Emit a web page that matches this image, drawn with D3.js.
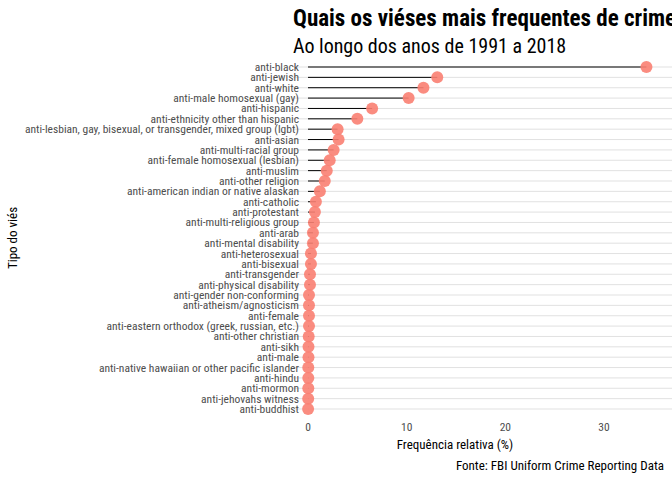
<!DOCTYPE html>
<html><head><meta charset="utf-8">
<script src="https://cdn.jsdelivr.net/npm/d3@7"></script>
<style>
body{margin:0;background:#fff;overflow:hidden}
text{font-family:"Roboto Condensed","Liberation Sans Narrow",Roboto,sans-serif}
</style></head><body>
<div id="chart"></div>
<script>
const categories = ["anti-black","anti-jewish","anti-white","anti-male homosexual (gay)","anti-hispanic","anti-ethnicity other than hispanic","anti-lesbian, gay, bisexual, or transgender, mixed group (lgbt)","anti-asian","anti-multi-racial group","anti-female homosexual (lesbian)","anti-muslim","anti-other religion","anti-american indian or native alaskan","anti-catholic","anti-protestant","anti-multi-religious group","anti-arab","anti-mental disability","anti-heterosexual","anti-bisexual","anti-transgender","anti-physical disability","anti-gender non-conforming","anti-atheism/agnosticism","anti-female","anti-eastern orthodox (greek, russian, etc.)","anti-other christian","anti-sikh","anti-male","anti-native hawaiian or other pacific islander","anti-hindu","anti-mormon","anti-jehovahs witness","anti-buddhist"];
const values = [34.3,13.1,11.7,10.2,6.5,5.0,3.0,3.1,2.6,2.2,1.9,1.7,1.2,0.8,0.7,0.6,0.5,0.5,0.3,0.3,0.2,0.2,0.1,0.1,0.1,0.1,0.07,0.05,0.05,0.03,0.03,0.03,0.02,0.01];
const xTicks = [0,10,20,30];

const W = 672, H = 480;
const svg = d3.select("#chart").append("svg").attr("width", W).attr("height", H);
const x = d3.scaleLinear().domain([0, 30]).range([308, 604]);
const y = d3.scalePoint().domain(categories).range([67, 409]);

// grid
svg.append("g").selectAll("line").data(categories).join("line")
  .attr("x1", 293).attr("x2", W).attr("y1", d => y(d)).attr("y2", d => y(d))
  .attr("stroke", "#d9d9d9").attr("stroke-width", 0.8);

// y labels
svg.append("g").selectAll("text").data(categories).join("text")
  .attr("x", 299).attr("y", d => y(d)).attr("dy", "0.35em")
  .attr("text-anchor", "end").attr("font-size", 11.5).attr("fill", "#4d4d4d").text(d => d);

// x ticks
svg.append("g").selectAll("text").data(xTicks).join("text")
  .attr("x", d => x(d)).attr("y", 431).attr("text-anchor", "middle")
  .attr("font-size", 11.5).attr("fill", "#4d4d4d").text(d => d);

// segments + dots
svg.append("g").selectAll("line").data(values).join("line")
  .attr("x1", x(0)).attr("x2", d => x(d))
  .attr("y1", (d, i) => y(categories[i])).attr("y2", (d, i) => y(categories[i]))
  .attr("stroke", "#000").attr("stroke-width", 1);
svg.append("g").selectAll("circle").data(values).join("circle")
  .attr("cx", d => x(d)).attr("cy", (d, i) => y(categories[i])).attr("r", 6)
  .attr("fill", "#fa8072").attr("opacity", 0.9);

// titles
svg.append("text").attr("x", 293).attr("y", 26).attr("font-size", 23).attr("font-weight", "bold")
  .text("Quais os viéses mais frequentes de crimes de ódio nos EUA?");
svg.append("text").attr("x", 293).attr("y", 53).attr("font-size", 20).text("Ao longo dos anos de 1991 a 2018");
svg.append("text").attr("x", 455).attr("y", 449).attr("text-anchor", "middle").attr("font-size", 13).text("Frequência relativa (%)");
svg.append("text").attr("x", 664).attr("y", 470).attr("text-anchor", "end").attr("font-size", 13).text("Fonte: FBI Uniform Crime Reporting Data");
svg.append("text").attr("transform", "translate(17,238) rotate(-90)").attr("text-anchor", "middle")
  .attr("font-size", 13).text("Tipo do viés");
</script></body></html>
